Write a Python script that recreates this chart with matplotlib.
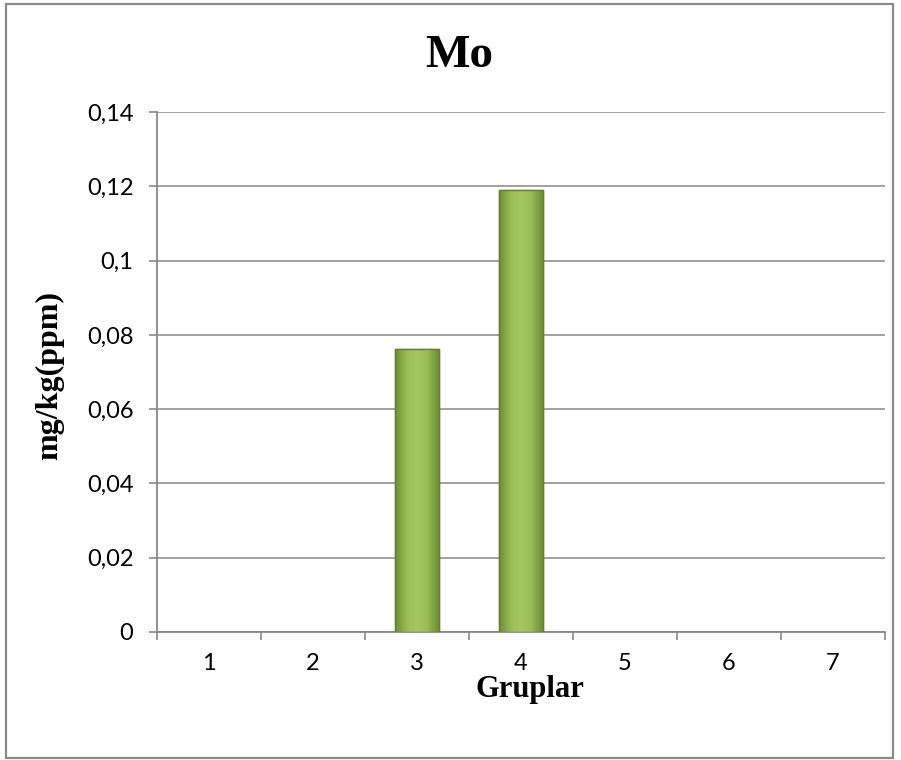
import numpy as np
import matplotlib
matplotlib.use("Agg")
from matplotlib import pyplot as plt
from matplotlib.patches import Rectangle
from matplotlib.colors import LinearSegmentedColormap

# data
groups = [1, 2, 3, 4, 5, 6, 7]
values = [0, 0, 0.0762, 0.119, 0, 0, 0]
y_ticks = [0, 0.02, 0.04, 0.06, 0.08, 0.1, 0.12, 0.14]
y_tick_labels = ["0", "0,02", "0,04", "0,06", "0,08", "0,1", "0,12", "0,14"]

fig = plt.figure(figsize=(9.01, 7.6), dpi=100)
ax = fig.add_axes([157 / 901, 128 / 760, 728 / 901, 520 / 760])

# bars (only the non-zero ones are visible)
bars = ax.bar(groups, values, width=0.42, color="#93b553",
              edgecolor="#6d8a33", linewidth=1.0, zorder=3)

# simple shading to mimic the bevelled look
shade = LinearSegmentedColormap.from_list(
    "shade", ["#6f8d34", "#98bb55", "#a6c862", "#98bb55", "#6f8d34"])
grad = np.linspace(0, 1, 64).reshape(1, -1)
for b in bars:
    if b.get_height() <= 0:
        b.set_visible(False)
        continue
    im = ax.imshow(grad, cmap=shade, aspect="auto", zorder=3.5,
                   extent=[b.get_x(), b.get_x() + b.get_width(), 0, b.get_height()])
    im.set_clip_path(b)
    ax.add_patch(Rectangle((b.get_x(), 0), b.get_width(), b.get_height(),
                           fill=False, edgecolor="#647f2e", linewidth=1.0, zorder=4))

ax.set_xlim(0.5, 7.5)
ax.set_ylim(0, 0.14)

ax.set_yticks(y_ticks)
ax.set_yticklabels(y_tick_labels, fontfamily="Lato", fontsize=17)
ax.set_xticks(groups)
ax.set_xticklabels([str(g) for g in groups], fontfamily="Lato", fontsize=17)
ax.set_xticks(np.arange(0.5, 8, 1), minor=True)
ax.tick_params(axis="x", which="major", length=0, pad=15)
ax.tick_params(axis="x", which="minor", length=6, color="#888888", width=1.2)
ax.tick_params(axis="y", length=6, color="#888888", width=1.2, pad=11)

ax.grid(axis="y", color="#888888", linewidth=1.1, zorder=0)
ax.set_axisbelow(True)
for s in ["top", "right"]:
    ax.spines[s].set_visible(False)
for s in ["left", "bottom"]:
    ax.spines[s].set_color("#888888")
    ax.spines[s].set_linewidth(1.3)

fig.text(459 / 901, 1 - 67 / 760, "Mo", ha="center", va="baseline",
         fontfamily="Liberation Serif", fontweight="bold", fontsize=34)
fig.text(530 / 901, 1 - 697 / 760, "Gruplar", ha="center", va="baseline",
         fontfamily="Liberation Serif", fontweight="bold", fontsize=22)
fig.text(50 / 901, 1 - 376 / 760, "mg/kg(ppm)", ha="center", va="center",
         rotation=90, fontfamily="Liberation Serif", fontweight="bold", fontsize=23)

# chart-area border
fig.patches.append(Rectangle((6 / 901, 2 / 760), 887 / 901, 754 / 760,
                             transform=fig.transFigure, fill=False,
                             edgecolor="#8a8a8a", linewidth=1.6))

fig.savefig("out.png", dpi=100)
